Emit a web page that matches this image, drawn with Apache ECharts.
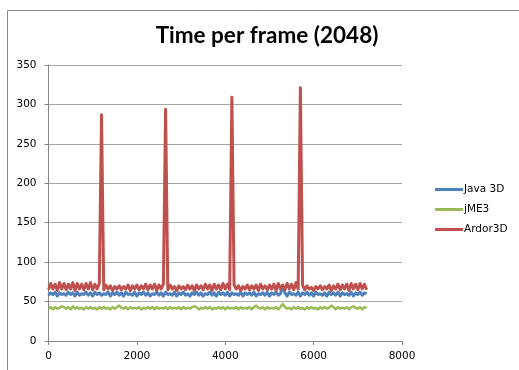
<!DOCTYPE html>
<html>
<head>
<meta charset="utf-8">
<script src="https://cdn.jsdelivr.net/npm/echarts@6/dist/echarts.min.js"></script>
<style>
  html, body { margin: 0; padding: 0; background: #fff; }
  #chart { width: 519px; height: 370px; }
</style>
</head>
<body>
<div id="chart"></div>
<script>
// Frame-time samples (ms), one sample every FRAME_STEP frames from frame 0 to 7200.
const FRAME_STEP = 50;

const seriesNames = ['Java 3D', 'jME3', 'Ardor3D'];
const xTicks = [0, 2000, 4000, 6000, 8000];
const yTicks = [0, 50, 100, 150, 200, 250, 300, 350];

const java3dMs = [
  58,61,59,62,57,61,59,60,58,62,
  59,61,57,62,58,60,59,62,58,61,
  57,62,59,61,58,60,59,62,57,61,
  59,62,58,61,57,62,59,60,58,62,
  57,61,59,62,58,61,57,60,59,62,
  58,61,57,62,59,60,58,62,57,61,
  59,62,58,60,57,61,59,62,58,61,
  57,60,59,62,58,61,57,62,59,61,
  58,62,57,61,59,60,58,62,57,61,
  59,61,58,62,57,60,59,61,58,62,
  57,61,59,62,58,60,70,61,57,62,
  59,60,58,62,57,61,59,62,58,61,
  57,62,59,60,58,61,57,62,59,61,
  58,62,57,61,59,60,58,62,57,61,
  59,62,58,61,60
];

const jme3Ms = [
  41,43,40,43,41,42,44,43,41,43,
  40,44,41,43,41,42,40,43,41,43,
  41,42,40,43,41,43,41,42,40,43,
  41,43,45,42,41,43,40,43,41,42,
  41,43,40,42,41,43,41,43,40,43,
  41,42,41,43,40,43,41,42,41,43,
  40,43,41,42,41,43,44,43,40,42,
  41,43,41,43,40,42,41,43,41,43,
  40,43,41,42,41,43,40,43,41,42,
  41,43,40,43,45,42,41,43,40,43,
  41,42,41,43,40,43,47,43,41,42,
  40,43,41,43,41,42,40,43,41,43,
  41,42,40,43,41,43,41,42,45,43,
  40,43,41,42,41,43,40,43,44,42,
  41,43,40,43,42
];

const ardor3dMs = [
  65,73,66,72,64,74,66,73,65,72,66,74,64,73,66,72,65,73,66,74,65,72,66,73,
  287,
  65,71,66,70,64,69,66,70,65,69,66,71,64,70,66,71,65,70,66,72,65,71,66,72,64,71,66,72,
  294,
  65,71,66,69,64,70,66,69,65,71,66,70,64,71,66,70,65,72,66,71,64,72,66,71,65,73,66,72,65,
  309,
  71,66,70,64,69,66,71,65,70,66,71,64,72,66,70,65,71,66,72,64,73,66,71,65,73,66,72,65,74,66,
  321,
  71,65,70,66,68,64,69,66,70,65,69,66,71,64,70,66,72,65,71,66,72,64,73,66,72,65,73,66,72,65
];

function toPoints(values) {
  return values.map((v, i) => [i * FRAME_STEP, v]);
}

const colors = ['#4F81BD', '#9BBB59', '#C0504D'];
const lineWidths = [3, 2.5, 3];
const valuesBySeries = [java3dMs, jme3Ms, ardor3dMs];
const axisFont = { fontFamily: 'DejaVu Sans', fontSize: 10.5, color: '#000' };

const chart = echarts.init(document.getElementById('chart'), null, { renderer: 'canvas' });
chart.setOption({
  animation: false,
  backgroundColor: '#fff',
  color: colors,
  graphic: [{
    type: 'rect',
    shape: { x: 7.5, y: 10.5, width: 600, height: 400 },
    style: { fill: 'none', stroke: '#868686', lineWidth: 1 },
    silent: true,
    z: -10
  }],
  title: {
    text: 'Time per frame (2048)',
    left: 262, top: 19, textAlign: 'center',
    textStyle: { fontFamily: 'Lato', fontWeight: 'bold', fontSize: 22.5, color: '#000' }
  },
  legend: {
    orient: 'vertical',
    left: 430, top: 179,
    itemWidth: 28, itemHeight: 3,
    itemGap: 9,
    icon: 'rect',
    data: seriesNames,
    textStyle: { fontFamily: 'DejaVu Sans', fontSize: 10.5, color: '#000', padding: [0, 0, 0, -4] }
  },
  grid: { left: 48.5, right: 117, top: 65, bottom: 29, containLabel: false },
  xAxis: {
    type: 'value',
    min: xTicks[0], max: xTicks[xTicks.length - 1], interval: 2000,
    axisLine: { show: true, lineStyle: { color: '#868686', width: 1 } },
    axisTick: { show: true, length: 4, lineStyle: { color: '#868686' } },
    axisLabel: Object.assign({ margin: 10, formatter: v => String(v) }, axisFont),
    splitLine: { show: false }
  },
  yAxis: {
    type: 'value',
    min: yTicks[0], max: yTicks[yTicks.length - 1], interval: 50,
    axisLine: { show: true, lineStyle: { color: '#868686', width: 1 } },
    axisTick: { show: true, length: 4, lineStyle: { color: '#868686' } },
    axisLabel: Object.assign({ margin: 12, formatter: v => String(v) }, axisFont),
    splitLine: { show: true, lineStyle: { color: '#a6a6a6', width: 1 } }
  },
  series: seriesNames.map((name, k) => ({
    name,
    type: 'line',
    data: toPoints(valuesBySeries[k]),
    showSymbol: false,
    symbol: 'none',
    sampling: null,
    lineStyle: { width: lineWidths[k], color: colors[k], join: 'round' },
    itemStyle: { color: colors[k] },
    emphasis: { disabled: true }
  }))
});
</script>
</body>
</html>
